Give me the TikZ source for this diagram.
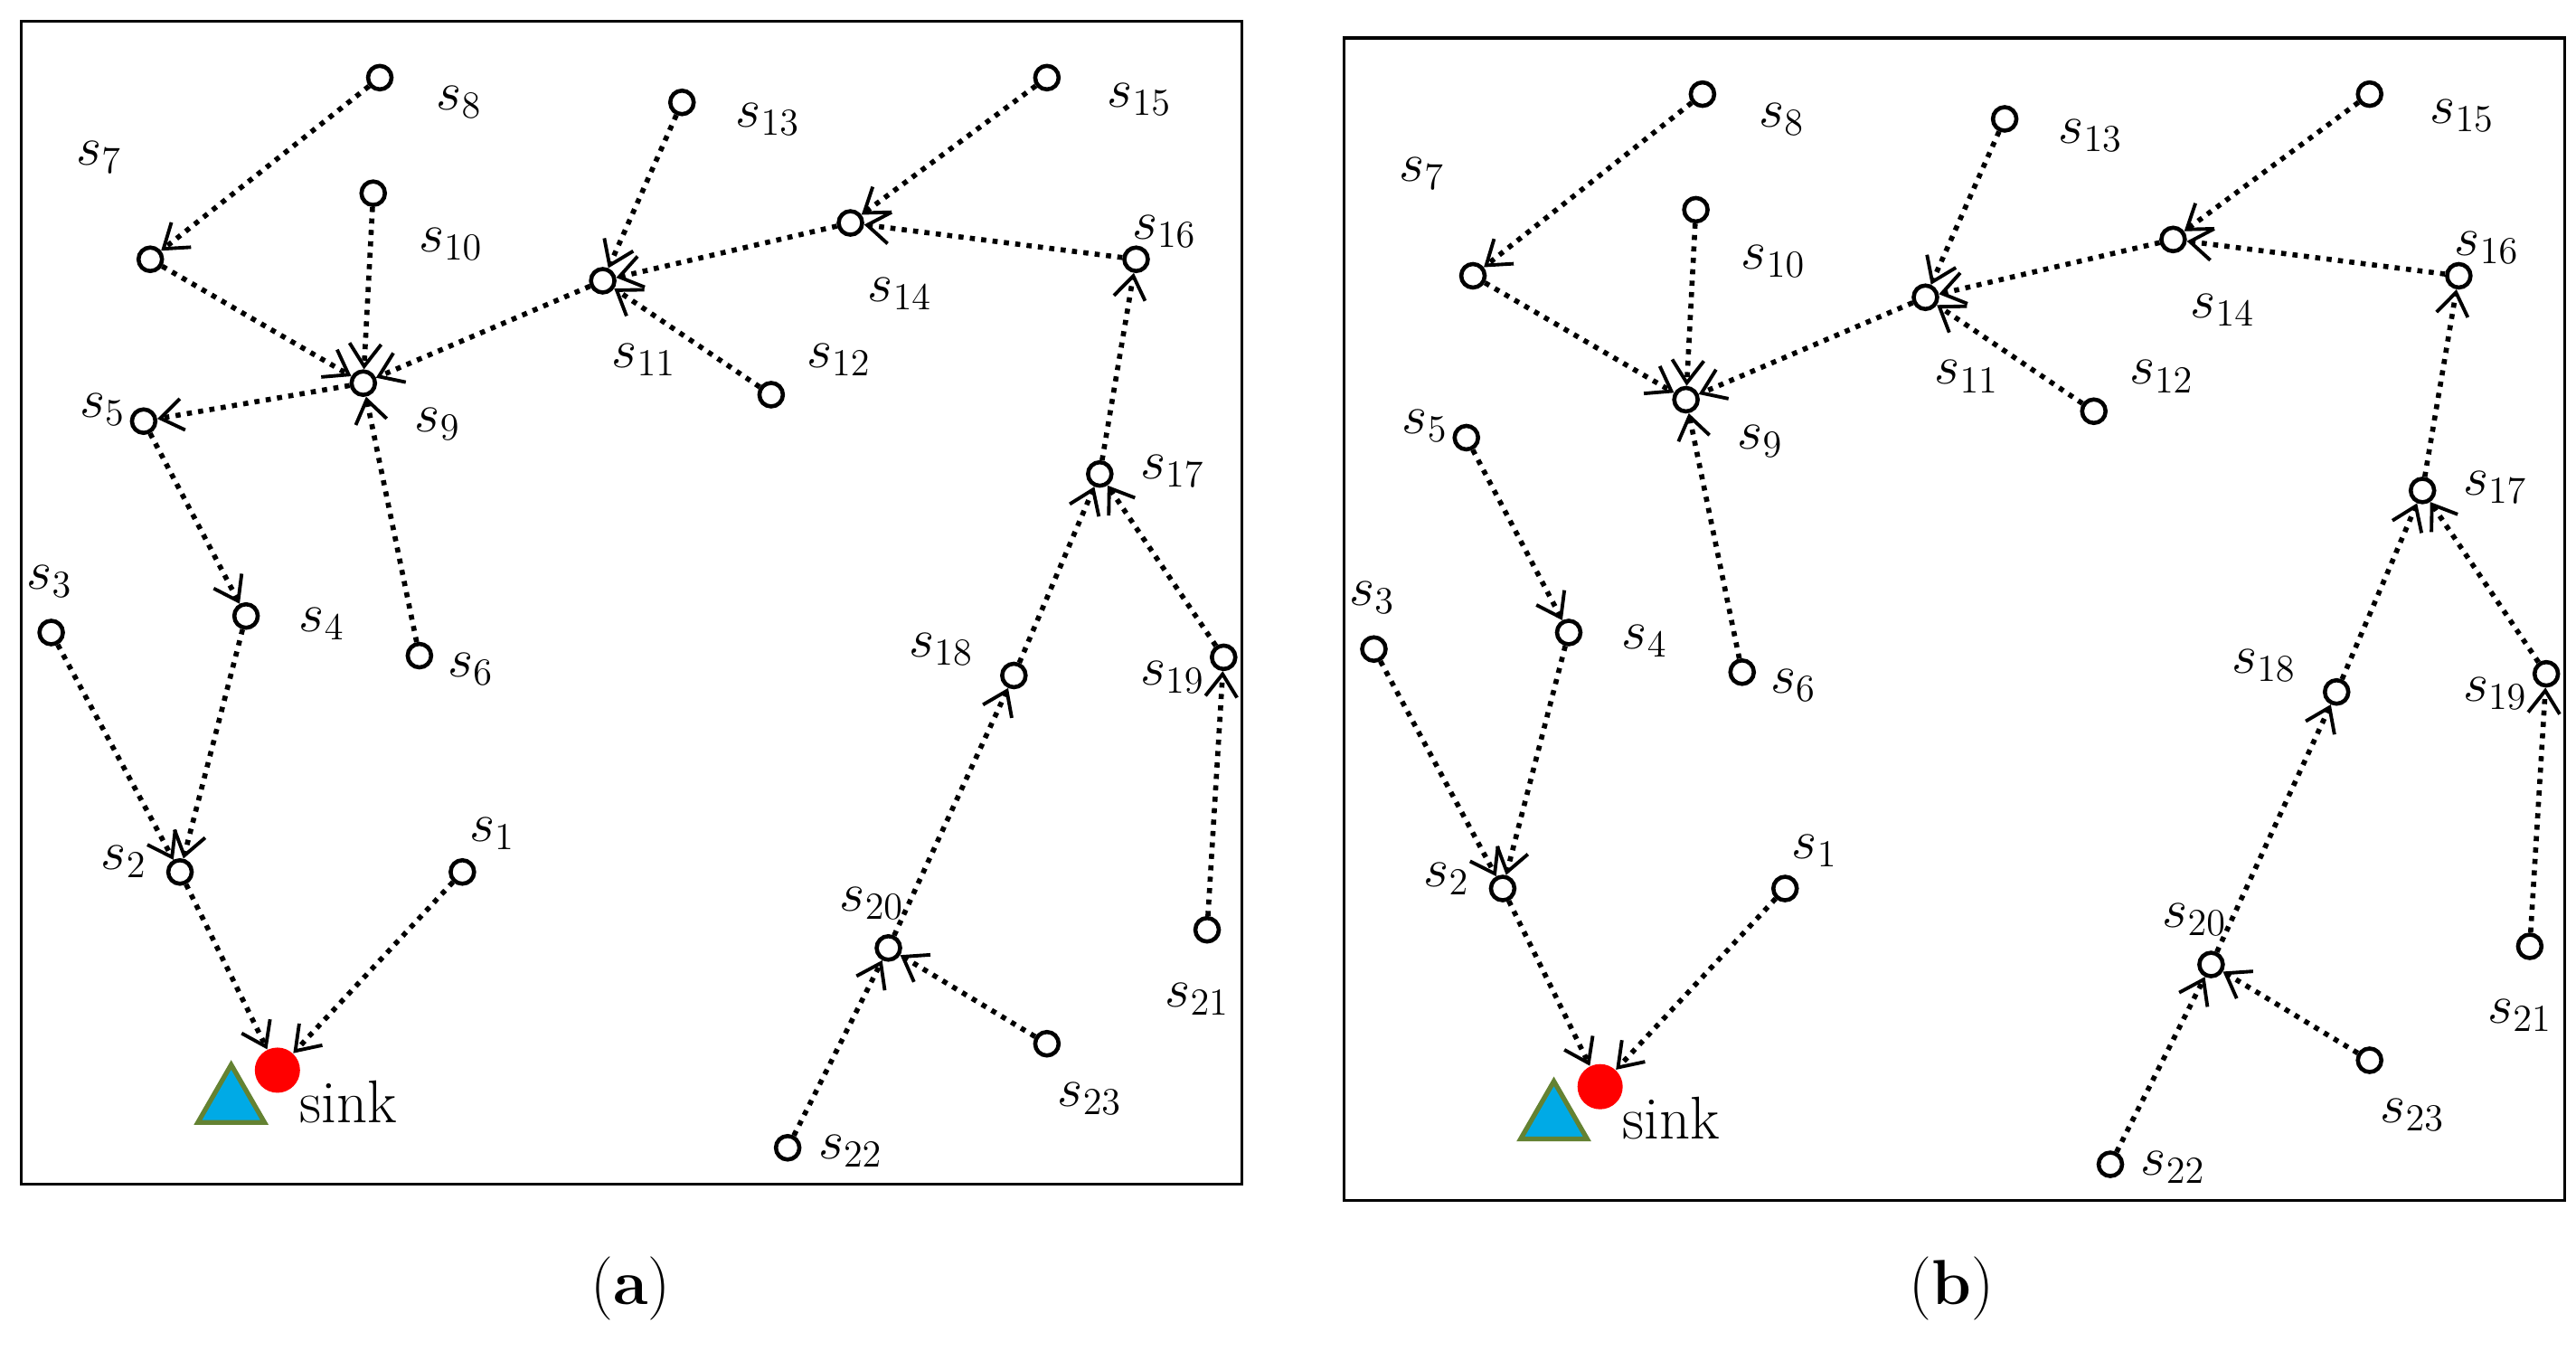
\documentclass[tikz,border=0pt]{standalone}
\usepackage{amsmath}
\usepackage{tikz}
\usetikzlibrary{arrows.meta, shapes.geometric}

\tikzset{
  sn/.style={circle, draw, line width=1.3pt, minimum size=0.26cm, inner sep=0pt},
  link/.style={dotted, line width=1.6pt, -{Straight Barb[length=2.5mm, width=3.5mm, line width=1.1pt]}},
  lbl/.style={font=\fontsize{17}{20}\selectfont, inner sep=0pt},
}

% one network panel: #1 prefix, #2 = 1 draws the link s9 -> s5
\newcommand\drawnet[2]{%
  \draw[line width=0.9pt] (13,13) rectangle (752,717);
  \foreach \n/\x/\y in {1/280/528, 2/109/528, 3/31/383, 4/149/373, 5/87/255, 6/254/397,
      7/91/157, 8/230/47, 9/220/232, 10/226/117, 11/365/170, 12/467/239, 13/413/62,
      14/515/135, 15/634/47, 16/688/157, 17/666/287, 18/614/409, 19/741/398,
      20/538/574, 21/731/563, 22/477/695, 23/634/632}
    \node[sn] (#1\n) at (\x,\y) {};
  \foreach \n/\x/\y in {1/298/505, 2/75/522, 3/30/352, 4/195/378, 5/62/248, 6/285/405,
      7/60/95, 8/278/62, 9/265/257, 10/273/148, 11/390/218, 12/508/218, 13/465/72,
      14/545/178, 15/690/60, 16/705/140, 17/710/285, 18/570/393, 19/710/410,
      20/528/547, 21/725/605, 22/515/697, 23/660/665}
    \node[lbl] at (\x,\y) {$s_{\n}$};
  % sink
  \node[regular polygon, regular polygon sides=3, draw={rgb,255:red,100;green,130;blue,50},
    line width=1.5pt, fill={rgb,255:red,0;green,170;blue,230}, minimum size=0.85cm,
    inner sep=0pt] (#1tri) at (140,668) {};
  \node[circle, fill=red, minimum size=0.5cm, inner sep=0pt] (#1sink) at (168,648) {};
  \node[lbl, font=\fontsize{19}{22}\selectfont] at (211,667) {sink};
  % links
  \foreach \s/\t in {8/7, 7/9, 10/9, 11/9, 6/9, 5/4, 4/2, 3/2, 13/11, 12/11, 14/11,
      15/14, 16/14, 17/16, 19/17, 18/17, 20/18, 21/19, 22/20, 23/20}
    \draw[link] (#1\s) -- (#1\t);
  \ifnum#2=1 \draw[link] (#19) -- (#15); \fi
  \draw[link] (#12) -- (#1sink);
  \draw[link] (#11) -- (#1sink);
}

\begin{document}
\begin{tikzpicture}[x=0.01826cm, y=-0.01826cm]
  \useasboundingbox (0,0) rectangle (1560,818);
  \begin{scope}
    \drawnet{a}{1}
  \end{scope}
  \begin{scope}[shift={(801,10)}]
    \drawnet{b}{0}
  \end{scope}
  \node[font=\fontsize{20}{24}\selectfont] (capa) at (382,780) {(\textbf{a})};
  \node[font=\fontsize{20}{24}\selectfont] (capb) at (1182,780) {(\textbf{b})};
\end{tikzpicture}
\end{document}
